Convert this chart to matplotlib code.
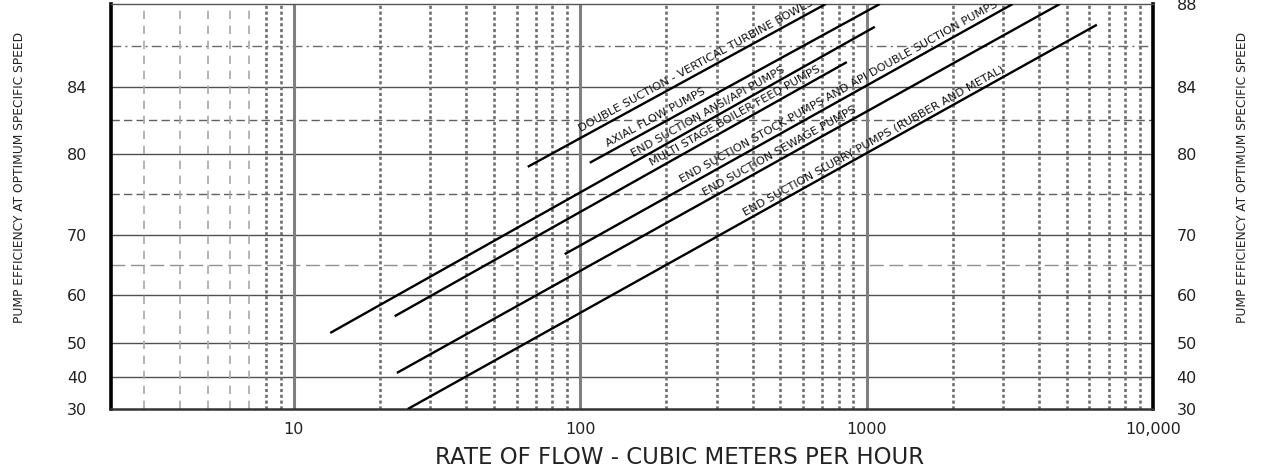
import numpy as np
import matplotlib
matplotlib.use("Agg")
import matplotlib.pyplot as plt
from matplotlib.transforms import offset_copy

plt.rcParams['font.family'] = ['DejaVu Sans']

# ---- data -------------------------------------------------------------
line_names = [
    "DOUBLE SUCTION - VERTICAL TURBINE BOWLS",
    "AXIAL FLOW PUMPS",
    "END SUCTION ANSI/API PUMPS",
    "MULTI STAGE BOILER FEED PUMPS",
    "END SUCTION STOCK PUMPS AND API DOUBLE SUCTION PUMPS",
    "END SUCTION SEWAGE PUMPS",
    "END SUCTION SLURRY PUMPS (RUBBER AND METAL)",
]
flow_start = [65.6, 108, 13.4, 22.5, 88.3, 22.9, 25.0]
eff_start = [78.4, 78.9, 52.1, 55.6, 66.8, 41.2, 30.0]
flow_end = [720, 1112, 1068, 853, 3236, 4729, 6368]
eff_end = [88.0, 88.0, 86.9, 85.2, 88.0, 88.0, 87.0]
label_flow = [101, 125, 153, 178, 226, 272, 376]

x_ticks = [10, 100, 1000, 10000]
x_ticklabels = ["10", "100", "1000", "10,000"]
y_ticks = [30, 40, 50, 60, 70, 80, 84, 88]
y_left_labels = ["30", "40", "50", "60", "70", "80", "84", ""]
y_right_labels = ["30", "40", "50", "60", "70", "80", "84", "88"]
# relative position of each y tick on the (non-linear) efficiency ruler
y_ruler = [0.0, 0.079, 0.163, 0.281, 0.430, 0.630, 0.795, 1.0]

# ---- figure -------------------------------------------------------------
W, H = 1261, 470
fig = plt.figure(figsize=(W / 100, H / 100), dpi=100)
ax = fig.add_axes([111 / W, 1 - 409 / H, (1153 - 111) / W, (409 - 4) / H])

def fwd(v):
    return np.interp(v, y_ticks, y_ruler)

def inv(f):
    return np.interp(f, y_ruler, y_ticks)

ax.set_xscale('log')
ax.set_yscale('function', functions=(fwd, inv))
ax.set_xlim(2.3, 10000)
ax.set_ylim(30, 88)

# horizontal grid
for v in [40, 50, 60, 70, 80, 84]:
    ax.axhline(v, color='#505050', lw=1.0, zorder=1)
ax.axhline(86, color='#6a6a6a', lw=1.0, ls=(0, (7, 3, 1.5, 3)), zorder=1)
for v in [82, 75]:
    ax.axhline(v, color='#606060', lw=1.0, ls=(0, (6, 3)), zorder=1)
ax.axhline(65, color='#909090', lw=1.0, ls=(0, (10, 4)), zorder=1)

# vertical grid
for v in [10, 100, 1000]:
    ax.axvline(v, color='#808080', lw=2.2, zorder=1)
for dec in [1, 10, 100, 1000]:
    for m in range(2, 10):
        v = dec * m
        if v < 2.3:
            continue
        if dec == 1 and m <= 7:
            ax.axvline(v, color='#a8a8a8', lw=1.2, ls=(0, (5, 4)), zorder=1)
        else:
            ax.axvline(v, color='#707070', lw=1.9, ls=(0, (1.2, 1.0)), zorder=1)

# data lines + labels
fig.canvas.draw()
for name, x0, y0, x1, y1, lx in zip(line_names, flow_start, eff_start,
                                    flow_end, eff_end, label_flow):
    ax.plot([x0, x1], [y0, y1], color='black', lw=1.7, zorder=3,
            solid_capstyle='butt')
    p0 = ax.transData.transform((x0, y0))
    p1 = ax.transData.transform((x1, y1))
    ang = np.degrees(np.arctan2(p1[1] - p0[1], p1[0] - p0[0]))
    t = (np.log10(lx) - np.log10(x0)) / (np.log10(x1) - np.log10(x0))
    py = p0[1] + t * (p1[1] - p0[1])
    ly = ax.transData.inverted().transform((ax.transData.transform((lx, y0))[0], py))[1]
    tr = offset_copy(ax.transData, fig=fig, x=0, y=4.0, units='points')
    ax.text(lx, ly, name, transform=tr, rotation=ang, rotation_mode='anchor',
            ha='left', va='baseline', fontsize=8.2, color='#111111',
            zorder=4, clip_on=True)

# ticks
ax.set_xticks(x_ticks)
ax.set_xticklabels(x_ticklabels)
ax.xaxis.set_minor_locator(matplotlib.ticker.NullLocator())
ax.set_yticks(y_ticks)
ax.set_yticklabels(y_left_labels)
ax.yaxis.set_minor_locator(matplotlib.ticker.NullLocator())
ax.tick_params(axis='x', length=0, pad=9, labelsize=11.5, labelcolor='#222222')
ax.tick_params(axis='y', length=0, pad=17, labelsize=11.5, labelcolor='#222222')

ax2 = ax.twinx()
ax2.set_yscale('function', functions=(fwd, inv))
ax2.set_ylim(30, 88)
ax2.set_yticks(y_ticks)
ax2.set_yticklabels(y_right_labels)
ax2.yaxis.set_minor_locator(matplotlib.ticker.NullLocator())
ax2.tick_params(axis='y', length=0, pad=17, labelsize=11.5, labelcolor='#222222')
for s in ax2.spines.values():
    s.set_visible(False)

# spines
for s in ['left', 'right']:
    ax.spines[s].set_linewidth(2.6)
    ax.spines[s].set_color('black')
ax.spines['bottom'].set_linewidth(1.8)
ax.spines['bottom'].set_color('#333333')
ax.spines['top'].set_linewidth(1.0)
ax.spines['top'].set_color('#555555')

# axis titles
ylab = "PUMP EFFICIENCY AT OPTIMUM SPECIFIC SPEED"
fig.text(20 / W, 1 - 177 / H, ylab, rotation=90, ha='center', va='center',
         fontsize=8.8, color='#222222')
fig.text(1243 / W, 1 - 177 / H, ylab, rotation=90, ha='center', va='center',
         fontsize=8.8, color='#222222')
fig.text(680 / W, 1 - 458 / H, "RATE OF FLOW - CUBIC METERS PER HOUR",
         ha='center', va='center', fontsize=16.5, color='#222222')

fig.savefig("out.png", dpi=100)
